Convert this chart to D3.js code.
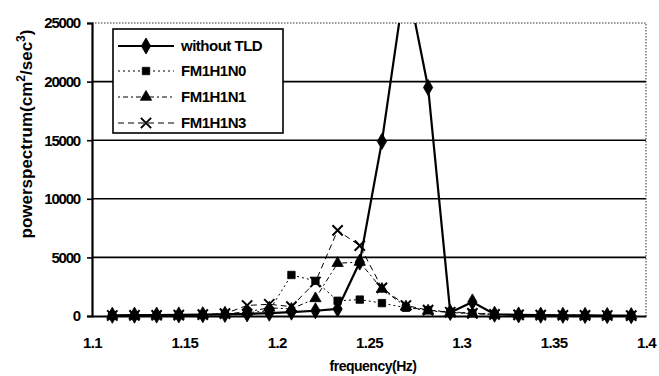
<!DOCTYPE html>
<html>
<head>
<meta charset="utf-8">
<script src="https://cdn.jsdelivr.net/npm/d3@7"></script>
<style>
  html, body { margin: 0; padding: 0; background: #fff; }
  svg { display: block; font-family: "Liberation Sans", Arial, sans-serif; }
</style>
</head>
<body>
<svg id="chart" width="659" height="376"></svg>
<script>
// Frequency bins (Hz) of the power spectrum
const frequencies = [1.111, 1.123, 1.135, 1.147, 1.160, 1.172, 1.184, 1.196, 1.208, 1.221, 1.233, 1.245,
                     1.257, 1.270, 1.282, 1.294, 1.306, 1.318, 1.331, 1.343, 1.355, 1.367, 1.379, 1.392];

// Power spectrum (cm^2/sec^3) for each case
const withoutTLD = [60, 70, 80, 90, 110, 140, 180, 240, 330, 450, 600, 4600,
                    14900, 29000, 19500, 300, 1200, 150, 90, 70, 60, 50, 40, 30];
const fm1h1n0 = [40, 50, 60, 80, 110, 170, 280, 450, 3500, 3000, 1300, 1400,
                 1100, 700, 500, 350, 250, 150, 100, 80, 60, 50, 40, 30];
const fm1h1n1 = [40, 50, 60, 80, 110, 180, 350, 700, 600, 1500, 4500, 4600,
                 2300, 800, 450, 300, 200, 130, 100, 80, 60, 50, 40, 30];
const fm1h1n3 = [40, 50, 60, 80, 120, 200, 900, 1000, 800, 2900, 7300, 6000,
                 2400, 900, 500, 320, 220, 140, 100, 80, 60, 50, 40, 30];

const seriesNames = ["without TLD", "FM1H1N0", "FM1H1N1", "FM1H1N3"];
const seriesValues = [withoutTLD, fm1h1n0, fm1h1n1, fm1h1n3];
const seriesMarkers = ["diamond", "square", "triangle", "cross"];

const xTicks = [1.1, 1.15, 1.2, 1.25, 1.3, 1.35, 1.4];
const xTickLabels = ["1.1", "1.15", "1.2", "1.25", "1.3", "1.35", "1.4"];
const yTicks = [0, 5000, 10000, 15000, 20000, 25000];

const svg = d3.select("#chart");
const plot = { left: 92, right: 646, top: 23, bottom: 316 };

const x = d3.scaleLinear().domain([1.1, 1.4]).range([plot.left, plot.right]);
const y = d3.scaleLinear().domain([0, 25000]).range([plot.bottom, plot.top]);

svg.append("defs").append("clipPath").attr("id", "plotClip")
  .append("rect")
  .attr("x", plot.left - 10).attr("y", plot.top)
  .attr("width", plot.right - plot.left + 20).attr("height", plot.bottom - plot.top + 10);

// Horizontal gridlines
svg.append("g")
  .selectAll("line")
  .data(yTicks.filter(t => t > 0 && t < 25000))
  .join("line")
  .attr("x1", plot.left).attr("x2", plot.right)
  .attr("y1", d => y(d)).attr("y2", d => y(d))
  .attr("stroke", "#000").attr("stroke-width", 1.6);

// Dotted frame on top and right
svg.append("path")
  .attr("d", `M${plot.left},${y(25000)}H${plot.right}V${plot.bottom}`)
  .attr("fill", "none").attr("stroke", "#333").attr("stroke-width", 1)
  .attr("stroke-dasharray", "1.5,1.5");

// Y axis
const yAxis = d3.axisLeft(y).tickValues(yTicks).tickSize(5).tickPadding(7).tickFormat(d3.format("d"));
const gy = svg.append("g").attr("transform", `translate(${plot.left},0)`).call(yAxis);
gy.select(".domain").attr("stroke", "#000").attr("stroke-width", 2.2);
gy.selectAll(".tick line").attr("stroke", "#000").attr("stroke-width", 1.6);
gy.selectAll(".tick text")
  .attr("fill", "#000").attr("font-size", 15).attr("font-weight", "bold")
  .attr("letter-spacing", "-1.2").attr("font-family", "Liberation Sans, Arial, sans-serif");

// X axis
const xAxis = d3.axisBottom(x).tickValues(xTicks).tickSize(0).tickPadding(21)
  .tickFormat((d, i) => xTickLabels[i]);
const gx = svg.append("g").attr("transform", `translate(0,${plot.bottom})`).call(xAxis);
gx.select(".domain").attr("stroke", "#000").attr("stroke-width", 2.2);
gx.selectAll(".tick text")
  .attr("fill", "#000").attr("font-size", 15).attr("font-weight", "bold")
  .attr("letter-spacing", "-0.6").attr("font-family", "Liberation Sans, Arial, sans-serif");

// Axis titles
svg.append("text")
  .attr("x", 373).attr("y", 371).attr("text-anchor", "middle")
  .attr("font-size", 14).attr("font-weight", "bold").attr("letter-spacing", "-0.5").attr("fill", "#000")
  .text("frequency(Hz)");

const yTitle = svg.append("text")
  .attr("transform", "translate(32,134) rotate(-90)")
  .attr("text-anchor", "middle").attr("font-size", 17).attr("font-weight", "bold").attr("fill", "#000");
yTitle.append("tspan").text("powerspectrum(cm");
yTitle.append("tspan").attr("dy", -7).attr("font-size", 12).text("2");
yTitle.append("tspan").attr("dy", 7).text("/sec");
yTitle.append("tspan").attr("dy", -7).attr("font-size", 12).text("3");
yTitle.append("tspan").attr("dy", 7).text(")");

// Marker shapes
const symbolFor = {
  diamond: d3.symbol().type(d3.symbolDiamond).size(75),
  square: d3.symbol().type(d3.symbolSquare).size(55),
  triangle: d3.symbol().type(d3.symbolTriangle).size(55),
  cross: d3.symbol().type(d3.symbolX).size(70)
};
const lineStyles = [
  { width: 2.2, dash: null },
  { width: 1, dash: "2,3" },
  { width: 1, dash: "2,3,5,3" },
  { width: 1, dash: "6,4" }
];

const line = d3.line().x((d, i) => x(frequencies[i])).y(d => y(d));
const series = svg.append("g").attr("clip-path", "url(#plotClip)");

// Draw dashed series first, solid one on top
[1, 2, 3, 0].forEach(s => {
  const g = series.append("g");
  g.append("path")
    .datum(seriesValues[s])
    .attr("d", line)
    .attr("fill", "none").attr("stroke", "#000")
    .attr("stroke-width", lineStyles[s].width)
    .attr("stroke-dasharray", lineStyles[s].dash);
  const m = seriesMarkers[s];
  g.selectAll("path.mk")
    .data(seriesValues[s])
    .join("path")
    .attr("class", "mk")
    .attr("transform", (d, i) => `translate(${x(frequencies[i])},${y(d)})`)
    .attr("d", symbolFor[m]())
    .attr("fill", m === "cross" ? "none" : "#000")
    .attr("stroke", "#000")
    .attr("stroke-width", m === "cross" ? 2 : 0.8);
});

// Legend
const legend = svg.append("g");
legend.append("rect")
  .attr("x", 113).attr("y", 29).attr("width", 170).attr("height", 104)
  .attr("fill", "#fff").attr("stroke", "#000").attr("stroke-width", 1.6);
const legendRows = [46, 71, 97, 123];
seriesNames.forEach((name, s) => {
  const ly = legendRows[s];
  legend.append("line")
    .attr("x1", 118).attr("x2", 174).attr("y1", ly).attr("y2", ly)
    .attr("stroke", "#000").attr("stroke-width", lineStyles[s].width)
    .attr("stroke-dasharray", lineStyles[s].dash);
  const m = seriesMarkers[s];
  legend.append("path")
    .attr("transform", `translate(146,${ly})`)
    .attr("d", symbolFor[m]())
    .attr("fill", m === "cross" ? "none" : "#000")
    .attr("stroke", "#000").attr("stroke-width", m === "cross" ? 2 : 0.8);
  legend.append("text")
    .attr("x", 181).attr("y", ly + 5)
    .attr("font-size", 15).attr("font-weight", "bold").attr("fill", "#000").attr("letter-spacing", "-0.5")
    .text(name);
});
</script>
</body>
</html>
